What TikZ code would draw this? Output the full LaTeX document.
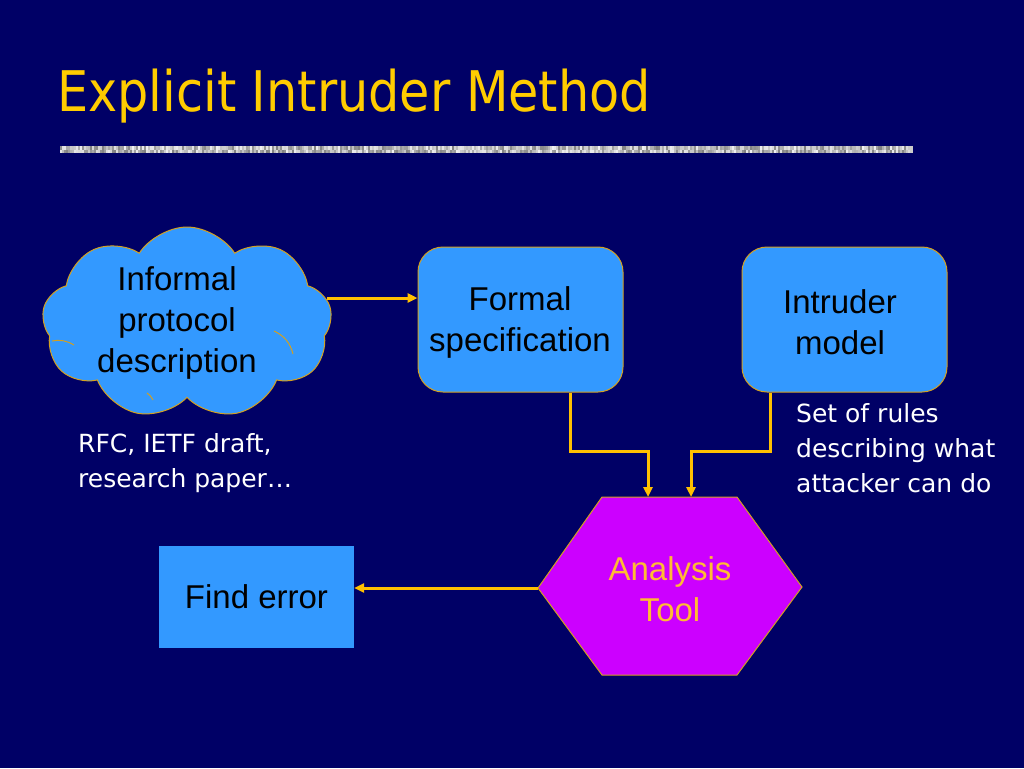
\documentclass[tikz,border=0pt]{standalone}
\usepackage{fontspec}
\setmainfont{Liberation Sans}
\newfontfamily\tahoma{DejaVu Sans}
\newfontfamily\titlefont[FakeStretch=0.88]{DejaVu Sans}
\usetikzlibrary{shapes.symbols,arrows.meta}
\definecolor{bg}{HTML}{000066}
\definecolor{boxblue}{HTML}{3399FF}
\definecolor{gold}{HTML}{FFCC00}
\definecolor{arrowgold}{HTML}{FFC000}
\definecolor{edgegold}{HTML}{D4A020}
\definecolor{hexviolet}{HTML}{CC00FF}
\definecolor{tooltext}{HTML}{FFBB33}
\tikzset{
  conn/.style={draw=arrowgold, line width=3pt, -{Triangle[length=10pt,width=9pt]}},
  rbox/.style={draw=edgegold, line width=1pt, fill=boxblue, rounded corners=25pt,
    minimum width=205pt, minimum height=145pt},
  big/.style={font=\fontsize{33}{41}\selectfont, align=center, inner sep=0pt},
  note/.style={text=white, font=\tahoma\fontsize{25}{35}\selectfont, align=left, inner sep=0pt},
  puffline/.style={draw=edgegold, line width=1pt}
}
\begin{document}
\begin{tikzpicture}[x=1pt,y=-1pt]
\fill[bg] (0,0) rectangle (1024,768);
\useasboundingbox (0,0) rectangle (1024,768);
% title
\node[anchor=base west, inner sep=0pt, text=gold, font=\titlefont\fontsize{56}{64}\selectfont] (title) at (57,111) {Explicit Intruder Method};
% textured bar
\fill[gray!40] (60,146) rectangle (913,153);
\pgfmathsetseed{7}
\foreach \i in {0,...,425}{
  \pgfmathsetmacro\ga{rnd*45+5}
  \pgfmathsetmacro\gb{rnd*45+5}
  \fill[black!\ga!white] (60+2*\i,146) rectangle ++(2,3.5);
  \fill[black!\gb!white] (60+2*\i,149.5) rectangle ++(2,3.5);
}
% cloud
\node[cloud, cloud puffs=9, cloud puff arc=115, aspect=1.5, draw=edgegold, line width=1pt,
  fill=boxblue, minimum width=290pt, minimum height=192pt, inner sep=0pt] (cloud) at (187,323) {};
\draw[puffline] (274,331) to[bend left=25] (293,354);
\draw[puffline] (52,341) to[bend left=20] (74,345);
\draw[puffline] (147,393) to[bend left=15] (153,400);
\node[big] (cloudtext) at (177,323) {Informal\\protocol\\description};
% boxes
\node[rbox] (formal) at (520.5,319.5) {};
\node[big] (formaltext) at (520,322) {Formal\\specification};
\node[rbox] (intruder) at (844.5,319.5) {};
\node[big] (intrudertext) at (840,322) {Intruder\\model};
\node[fill=boxblue, minimum width=195pt, minimum height=102pt, font=\fontsize{33}{41}\selectfont] (finderr) at (256.5,597) {Find error};
% notes
\node[note, anchor=base west] (rules) at (796,492) {Set of rules\\describing what\\attacker can do};
\node[note, anchor=base west] (rfc) at (78,487) {RFC, IETF draft,\\research paper\ldots};
% hexagon
\coordinate (hexTL) at (602,497);
\coordinate (hexTR) at (737,497);
\coordinate (hexR) at (802,587);
\coordinate (hexBR) at (737,675);
\coordinate (hexBL) at (602,675);
\coordinate (hexL) at (538,588);
\filldraw[fill=hexviolet, draw=edgegold, line width=1pt] (hexTL) -- (hexTR) -- (hexR) -- (hexBR) -- (hexBL) -- (hexL) -- cycle;
\node[big, text=tooltext] (tool) at (670,589) {Analysis\\Tool};
\coordinate (in1) at (648,497);
\coordinate (in2) at (691,497);
\coordinate (cloudout) at (327,298);
% connectors
\draw[conn] (cloudout) -- (cloudout -| formal.west);
\draw[conn] ([xshift=50pt]formal.south) -- ++(0,59) -| (in1);
\draw[conn] ([xshift=-74.5pt]intruder.south) -- ++(0,59) -| (in2);
\draw[conn] (hexL) -- (hexL -| finderr.east);
\end{tikzpicture}
\end{document}
